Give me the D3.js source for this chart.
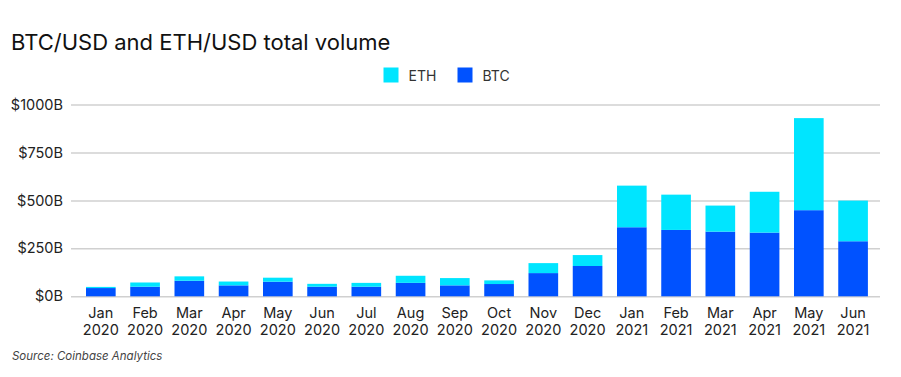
<!DOCTYPE html>
<html>
<head>
<meta charset="utf-8">
<script src="https://cdn.jsdelivr.net/npm/d3@7"></script>
<style>
  body { margin: 0; background: #fff; }
  svg text { font-family: Inter, "Noto Sans", sans-serif; }
</style>
</head>
<body>
<svg id="chart" width="901" height="377"></svg>
<script>
// data, in $B
const months = ["Jan 2020", "Feb 2020", "Mar 2020", "Apr 2020", "May 2020", "Jun 2020",
  "Jul 2020", "Aug 2020", "Sep 2020", "Oct 2020", "Nov 2020", "Dec 2020",
  "Jan 2021", "Feb 2021", "Mar 2021", "Apr 2021", "May 2021", "Jun 2021"];
const btc = [43, 50, 81, 57, 76, 50, 50, 70, 57, 64, 121, 158, 360, 346, 337, 332, 449, 287];
const eth = [6, 22, 23, 20, 21, 15, 20, 37, 38, 19, 52, 57, 217, 184, 136, 213, 480, 212];
const yTicks = [0, 250, 500, 750, 1000];

const keys = ["btc", "eth"];
const colors = { btc: "#0052FF", eth: "#00E5FF" };

var svg = d3.select("#chart"),
  margin = { top: 104.5, right: 21, bottom: 81, left: 71 };

const rows = months.map((m, i) => ({ month: m, btc: btc[i], eth: eth[i] }));
const stacked = d3.stack().keys(keys)(rows);

const x = d3.scaleBand()
  .domain(months)
  .range([78.7, 875.2])
  .paddingInner(0.33)
  .paddingOuter(0.165);

const y = d3.scaleLinear()
  .domain([0, 1000])
  .range([296.3, margin.top]);

// title
svg.append("text")
  .attr("x", 11)
  .attr("y", 50)
  .attr("font-size", 22)
  .attr("fill", "#111")
  .text("BTC/USD and ETH/USD total volume");

// y axis + grid
const yAxis = d3.axisLeft(y)
  .tickValues(yTicks)
  .tickSize(-(880 - margin.left))
  .tickPadding(8)
  .tickFormat((d) => `$${d}B`);

svg.append("g")
  .attr("class", "y axis")
  .attr("transform", `translate(${margin.left}, 0)`)
  .call(yAxis)
  .call((g) => g.select(".domain").remove())
  .call((g) => g.selectAll(".tick line").attr("stroke", "#d0d0d0").attr("stroke-width", 1.5))
  .call((g) => g.selectAll(".tick text")
    .attr("x", -8)
    .attr("font-size", 14.5)
    .attr("fill", "#222"));

// bars
svg.append("g")
  .selectAll("g")
  .data(stacked)
  .enter()
  .append("g")
  .attr("fill", (d) => colors[d.key])
  .selectAll("rect")
  .data((d) => d)
  .enter()
  .append("rect")
  .attr("x", (d) => x(d.data.month))
  .attr("y", (d) => y(d[1]))
  .attr("width", x.bandwidth())
  .attr("height", (d) => y(d[0]) - y(d[1]));

// x labels, two lines (month above, year below)
const xAxis = d3.axisBottom(x).tickSize(0).tickPadding(0);
svg.append("g")
  .attr("class", "x axis")
  .attr("transform", `translate(0, ${y(0)})`)
  .call(xAxis)
  .call((g) => g.select(".domain").remove())
  .call((g) => g.selectAll(".tick").each(function (d) {
    const parts = d.split(" ");
    const tick = d3.select(this);
    tick.select("text")
      .attr("y", 21.5)
      .attr("dy", null)
      .attr("font-size", 14.5)
      .attr("fill", "#222")
      .text(parts[0]);
    tick.append("text")
      .attr("y", 39)
      .attr("font-size", 14.5)
      .attr("fill", "#222")
      .text(parts[1]);
  }));

// legend
const legend = [
  { key: "eth", label: "ETH", x: 383.5 },
  { key: "btc", label: "BTC", x: 457.5 },
];
const lg = svg.append("g").selectAll("g")
  .data(legend)
  .enter()
  .append("g")
  .attr("transform", (d) => `translate(${d.x}, 67.5)`);
lg.append("rect")
  .attr("width", 15)
  .attr("height", 15)
  .attr("fill", (d) => colors[d.key]);
lg.append("text")
  .attr("x", 25)
  .attr("y", 13)
  .attr("font-size", 14)
  .attr("fill", "#333")
  .text((d) => d.label);

// source
svg.append("text")
  .attr("x", 12)
  .attr("y", 360)
  .attr("font-size", 11.5)
  .attr("font-style", "italic")
  .attr("fill", "#444")
  .text("Source: Coinbase Analytics");
</script>
</body>
</html>
